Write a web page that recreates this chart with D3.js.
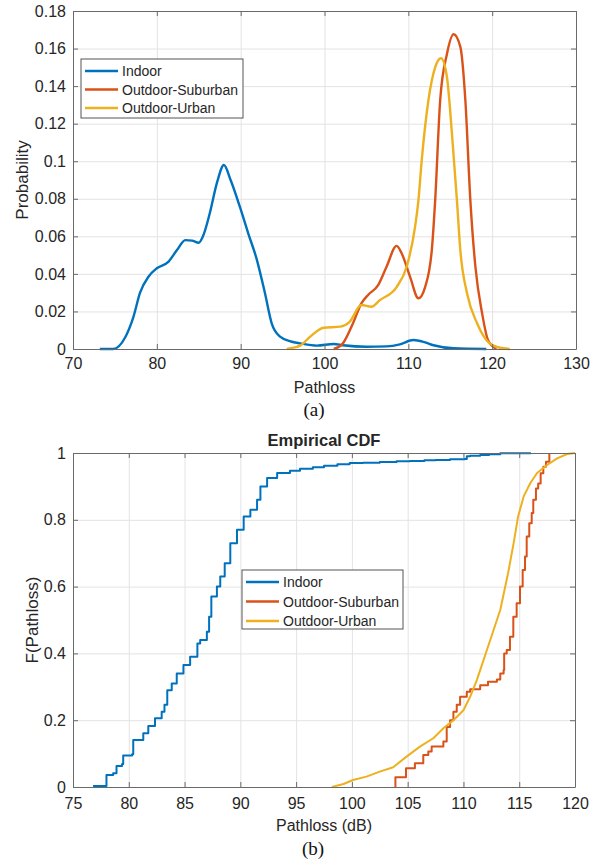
<!DOCTYPE html>
<html>
<head>
<meta charset="utf-8">
<script src="https://cdn.jsdelivr.net/npm/d3@7/dist/d3.min.js"></script>
<style>
body { margin: 0; background: #fff; }
svg text { font-family: "Liberation Sans", Arial, sans-serif; fill: #262626; }
</style>
</head>
<body>
<svg id="fig" width="598" height="865"></svg>
<script>
// ---- data ----
var seriesNames = ["Indoor", "Outdoor-Suburban", "Outdoor-Urban"];
var seriesColors = ["#0072BD", "#D95319", "#EDB120"];

// (a) kernel density estimates
var indoorPdfX = [73.2,74.8,76.2,77.2,78,79,80,81.4,82.4,83.4,84.2,85,85.5,86.3,87.2,88,88.8,89.9,90.9,91.9,92.9,93.7,94.7,96,97.1,99.1,101.1,102.2,105,107.4,109,110.6,112,113,115.4,119.3];
var indoorPdfY = [0,0,0.006,0.017,0.030,0.0385,0.043,0.0465,0.0527,0.058,0.0577,0.0566,0.060,0.072,0.089,0.098,0.09,0.0758,0.0616,0.048,0.0297,0.0137,0.0066,0.004,0.003,0.0018,0.0027,0.002,0.0012,0.0014,0.0025,0.0048,0.0035,0.002,0.0004,0];
var suburbanPdfX = [101.1,102.2,103.4,104.4,105.2,106.4,107.4,108.6,109.2,110.2,111.2,112,112.8,113.2,113.8,114.6,115.4,116.2,116.8,117.4,118,118.8,119.5,120.5];
var suburbanPdfY = [0,0.003,0.0137,0.0243,0.0288,0.034,0.0438,0.0549,0.051,0.0385,0.027,0.033,0.0527,0.079,0.1326,0.157,0.1676,0.161,0.1326,0.079,0.0438,0.019,0.0048,0];
var urbanPdfX = [95.5,96.3,97.1,98.3,99.9,101.9,103,104.4,105.6,106.6,108.6,109.8,110.8,111.2,111.6,112.4,113.2,113.9,114.6,115.2,115.8,116.2,117,118.2,119.3,120.5,122.1];
var urbanPdfY = [0,0.0007,0.0018,0.0066,0.0113,0.0119,0.0145,0.0234,0.0225,0.026,0.033,0.0438,0.065,0.079,0.1006,0.1326,0.150,0.1548,0.145,0.1149,0.079,0.0527,0.0297,0.0137,0.0048,0.0012,0];

// (b) empirical CDFs
var indoorCdfX = [76.8,78.0,78.6,78.9,79.4,79.5,80.3,80.4,81.3,81.75,82.35,82.95,83.2,83.45,83.85,84.3,84.9,85.5,86.15,86.4,87.0,87.2,87.4,87.9,88.2,88.6,89.1,89.7,90.3,90.9,91.5,91.8,92.4,93.3,94.45,95.35,96.5,97.5,98.7,99.8,101,102.5,104,105.2,106.5,107.5,108.8,110.1,110.3,110.6,111.5,112.3,113.3,116.05];
var indoorCdfF = [0.003,0.036,0.041,0.063,0.069,0.094,0.098,0.141,0.161,0.183,0.206,0.225,0.246,0.29,0.31,0.34,0.365,0.39,0.43,0.44,0.465,0.51,0.57,0.60,0.63,0.67,0.73,0.77,0.81,0.83,0.86,0.90,0.925,0.94,0.947,0.953,0.957,0.962,0.966,0.97,0.971,0.973,0.975,0.976,0.978,0.979,0.981,0.982,0.99,0.992,0.994,0.996,0.999,1];
var suburbanCdfX = [103.9,103.9,104.85,105.65,106.4,106.85,107.15,108.2,108.5,108.8,109.1,109.4,109.7,110.3,110.6,111.5,112.2,113,113.3,113.6,113.65,113.88,114.17,114.47,114.77,115.07,115.31,115.52,115.67,115.9,116.12,116.26,116.5,116.7,116.92,117.16,117.4,117.7];
var suburbanCdfF = [0,0.029,0.056,0.071,0.096,0.106,0.121,0.136,0.18,0.20,0.225,0.246,0.27,0.285,0.293,0.305,0.315,0.322,0.34,0.35,0.40,0.41,0.45,0.51,0.55,0.60,0.65,0.69,0.75,0.79,0.82,0.86,0.894,0.909,0.939,0.959,0.974,1];
var urbanCdfX = [98.2,99.25,100.1,101.3,102.5,103.7,104.9,106.1,107.3,108.2,109.1,110,110.6,111.2,111.8,112.2,112.5,113.3,114,114.5,114.9,115.4,116,116.6,117.5,118.4,119.3,120];
var urbanCdfF = [0,0.009,0.021,0.031,0.046,0.059,0.091,0.121,0.146,0.176,0.20,0.23,0.27,0.32,0.38,0.42,0.45,0.53,0.64,0.73,0.81,0.87,0.91,0.94,0.964,0.984,0.997,1];

// ticks
var pdfXTicks = [70,80,90,100,110,120,130];
var pdfYTicks = [0,0.02,0.04,0.06,0.08,0.1,0.12,0.14,0.16,0.18];
var cdfXTicks = [75,80,85,90,95,100,105,110,115,120];
var cdfYTicks = [0,0.2,0.4,0.6,0.8,1];

function zip(xs, ys) {
    return xs.map(function(v, i) { return [v, ys[i]]; });
}

var svg = d3.select("#fig");

// grid + scales for one axes box
function drawAxes(opt) {
    var x = d3.scaleLinear().domain(opt.xDomain).range([opt.left, opt.right]);
    var y = d3.scaleLinear().domain(opt.yDomain).range([opt.bottom, opt.top]);
    var g = svg.append("g");
    var h = opt.bottom - opt.top, w = opt.right - opt.left;

    g.append("g")
        .attr("transform", "translate(0," + opt.bottom + ")")
        .call(d3.axisBottom(x).tickValues(opt.xTicks).tickSize(-h).tickFormat(""))
        .call(function(s) {
            s.select(".domain").remove();
            s.selectAll("line").attr("stroke", "#e3e3e3");
        });
    g.append("g")
        .attr("transform", "translate(" + opt.left + ",0)")
        .call(d3.axisLeft(y).tickValues(opt.yTicks).tickSize(-w).tickFormat(""))
        .call(function(s) {
            s.select(".domain").remove();
            s.selectAll("line").attr("stroke", "#e3e3e3");
        });

    opt.x = x;
    opt.y = y;
    return opt;
}

// box, inward ticks, tick labels and axis labels
function finishAxes(opt) {
    var g = svg.append("g");
    var x = opt.x, y = opt.y;
    var axisCol = "#6a6a6a";

    function style(s) {
        s.select(".domain").attr("stroke", axisCol);
        s.selectAll(".tick line").attr("stroke", axisCol);
        s.selectAll("text").attr("font-size", 16).attr("fill", "#333")
            .attr("font-family", "Liberation Sans, Arial, sans-serif");
    }
    g.append("g")
        .attr("transform", "translate(0," + opt.bottom + ")")
        .call(d3.axisBottom(x).tickValues(opt.xTicks).tickSizeInner(-5).tickSizeOuter(0).tickPadding(opt.xPad))
        .call(style);
    g.append("g")
        .attr("transform", "translate(0," + opt.top + ")")
        .call(d3.axisTop(x).tickValues(opt.xTicks).tickSizeInner(-5).tickSizeOuter(0).tickFormat(""))
        .call(style);
    g.append("g")
        .attr("transform", "translate(" + opt.left + ",0)")
        .call(d3.axisLeft(y).tickValues(opt.yTicks).tickSizeInner(-5).tickSizeOuter(0).tickPadding(7)
              .tickFormat(d3.format("~g")))
        .call(style);
    g.append("g")
        .attr("transform", "translate(" + opt.right + ",0)")
        .call(d3.axisRight(y).tickValues(opt.yTicks).tickSizeInner(-5).tickSizeOuter(0).tickFormat(""))
        .call(style);

    svg.append("text")
        .attr("x", (opt.left + opt.right) / 2)
        .attr("y", opt.xLabelY)
        .attr("text-anchor", "middle")
        .attr("font-size", 16)
        .attr("fill", "#333")
        .text(opt.xLabel);
    svg.append("text")
        .attr("transform", "translate(" + opt.yLabelX + "," + (opt.top + opt.bottom) / 2 + ") rotate(-90)")
        .attr("text-anchor", "middle")
        .attr("font-size", 17)
        .attr("fill", "#333")
        .text(opt.yLabel);
}

function drawLegend(lx, ly, lw, lh, rowYs) {
    var lg = svg.append("g");
    lg.append("rect")
        .attr("x", lx).attr("y", ly)
        .attr("width", lw).attr("height", lh)
        .attr("fill", "#fff")
        .attr("stroke", "#555")
        .attr("stroke-width", 1);
    seriesNames.forEach(function(name, i) {
        lg.append("line")
            .attr("x1", lx + 4).attr("x2", lx + 37)
            .attr("y1", rowYs[i]).attr("y2", rowYs[i])
            .attr("stroke", seriesColors[i])
            .attr("stroke-width", 2.4);
        lg.append("text")
            .attr("x", lx + 41)
            .attr("y", rowYs[i] + 5)
            .attr("font-size", 14)
            .text(name);
    });
}

// ---------- (a) PDF ----------
var pdf = drawAxes({
    left: 73, right: 576, top: 11, bottom: 349,
    xDomain: [70, 130], yDomain: [0, 0.18],
    xTicks: pdfXTicks, yTicks: pdfYTicks, xPad: 9,
    xLabel: "Pathloss", xLabelY: 393,
    yLabel: "Probability", yLabelX: 28
});

var pdfLine = d3.line()
    .x(function(d) { return pdf.x(d[0]); })
    .y(function(d) { return pdf.y(d[1]); })
    .curve(d3.curveMonotoneX);

var pdfSeries = [zip(indoorPdfX, indoorPdfY), zip(suburbanPdfX, suburbanPdfY), zip(urbanPdfX, urbanPdfY)];
pdfSeries.forEach(function(s, i) {
    svg.append("path")
        .datum(s)
        .attr("d", pdfLine)
        .attr("fill", "none")
        .attr("stroke", seriesColors[i])
        .attr("stroke-width", 2.4)
        .attr("stroke-linejoin", "round");
});
finishAxes(pdf);
drawLegend(81, 59, 162, 59, [71, 89.5, 108]);

svg.append("text")
    .attr("x", 314).attr("y", 416)
    .attr("text-anchor", "middle")
    .attr("font-size", 19)
    .style("font-family", "Liberation Serif, Times New Roman, serif")
    .style("fill", "#111")
    .text("(a)");

// ---------- (b) CDF ----------
var cdf = drawAxes({
    left: 73, right: 575, top: 453, bottom: 787,
    xDomain: [75, 120], yDomain: [0, 1],
    xTicks: cdfXTicks, yTicks: cdfYTicks, xPad: 11,
    xLabel: "Pathloss (dB)", xLabelY: 831,
    yLabel: "F(Pathloss)", yLabelX: 38
});

function cdfLine(curve) {
    return d3.line()
        .x(function(d) { return cdf.x(d[0]); })
        .y(function(d) { return cdf.y(d[1]); })
        .curve(curve);
}

var cdfSeries = [
    { data: zip(indoorCdfX, indoorCdfF), curve: d3.curveStepAfter },
    { data: zip(suburbanCdfX, suburbanCdfF), curve: d3.curveStepAfter },
    { data: zip(urbanCdfX, urbanCdfF), curve: d3.curveLinear }
];
cdfSeries.forEach(function(s, i) {
    svg.append("path")
        .datum(s.data)
        .attr("d", cdfLine(s.curve))
        .attr("fill", "none")
        .attr("stroke", seriesColors[i])
        .attr("stroke-width", 2)
        .attr("stroke-linejoin", "round");
});
finishAxes(cdf);
drawLegend(242, 570, 161, 59, [582, 601.5, 621]);

svg.append("text")
    .attr("x", (cdf.left + cdf.right) / 2).attr("y", 446)
    .attr("text-anchor", "middle")
    .attr("font-size", 16.5)
    .attr("font-weight", "bold")
    .attr("fill", "#111")
    .text("Empirical CDF");

svg.append("text")
    .attr("x", 313).attr("y", 855)
    .attr("text-anchor", "middle")
    .attr("font-size", 19)
    .style("font-family", "Liberation Serif, Times New Roman, serif")
    .style("fill", "#111")
    .text("(b)");
</script>
</body>
</html>
